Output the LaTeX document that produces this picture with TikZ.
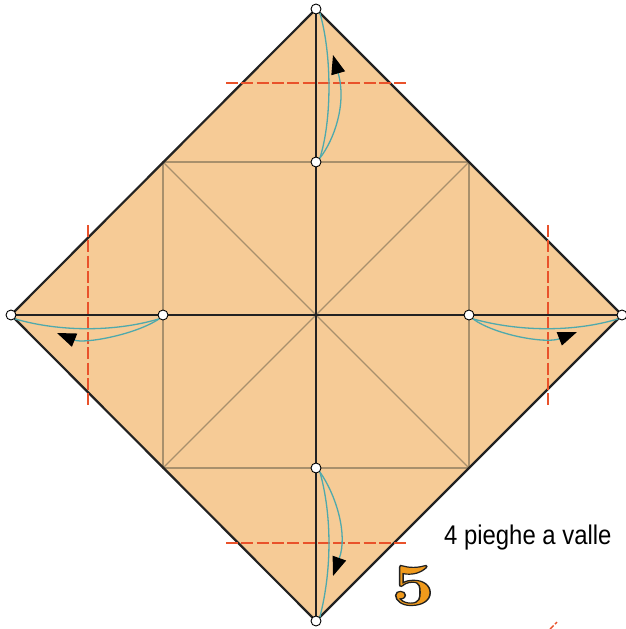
\documentclass[tikz,border=0pt]{standalone}
\usepackage{fontspec}
\setmainfont{Latin Modern Roman}
\newfontfamily\labelfont{Liberation Sans}
\usetikzlibrary{arrows.meta}
\definecolor{paper}{HTML}{F6CB96}
\definecolor{creaseb}{HTML}{A8906C}
\definecolor{tealc}{HTML}{4FA9AC}
\definecolor{redc}{HTML}{E9522B}
\definecolor{edgec}{HTML}{222222}
\definecolor{fivec}{HTML}{F09A1C}
\tikzset{
  pt/.style={circle,draw=black,fill=white,line width=.9pt,inner sep=0pt,minimum size=10pt},
  edgeline/.style={draw=edgec,line width=2.2pt,line cap=round},
  crease/.style={draw=creaseb,line width=1.4pt},
  diag/.style={draw=creaseb,line width=1.1pt},
  valley/.style={draw=redc,line width=2.1pt,dash pattern=on 12pt off 3.3pt},
  guide/.style={draw=tealc,line width=1.3pt},
  fold/.style={draw=tealc,line width=1.3pt,-{Triangle[length=19pt,width=14pt,color=black]}},
}
\begin{document}
\begin{tikzpicture}[x=1pt,y=-1pt]
\useasboundingbox (0,0) rectangle (626,629);
\coordinate (T) at (316,9);
\coordinate (L) at (11,315);
\coordinate (R) at (622,315);
\coordinate (B) at (316,621);
\coordinate (C) at (316,315);
\coordinate (s1) at (163,162);
\coordinate (s2) at (469,162);
\coordinate (s3) at (469,468);
\coordinate (s4) at (163,468);
\coordinate (vt1) at (226,83);
\coordinate (vt2) at (406,83);
\coordinate (vb1) at (226,543);
\coordinate (vb2) at (406,543);
\coordinate (vl1) at (88,225);
\coordinate (vl2) at (88,405);
\coordinate (vr1) at (548,225);
\coordinate (vr2) at (548,405);
\coordinate (m1) at (550,629);
\coordinate (m2) at (557,622);
\fill[paper] (T) -- (R) -- (B) -- (L) -- cycle;
\draw[crease] (s1) rectangle (s3);
\draw[diag] (s1) -- (s3);
\draw[diag] (s2) -- (s4);
\draw[edgeline] (T) -- (R) -- (B) -- (L) -- cycle;
\draw[edgeline] (T) -- (B);
\draw[edgeline] (L) -- (R);
\draw[valley] (vt1) -- (vt2);
\draw[valley] (vb1) -- (vb2);
\draw[valley] (vl1) -- (vl2);
\draw[valley] (vr1) -- (vr2);
\draw[draw=redc,line width=1.4pt,dash pattern=on 5pt off 2pt] (m1) -- (m2);
\node[pt] (nT) at (T) {};
\node[pt] (nL) at (L) {};
\node[pt] (nR) at (R) {};
\node[pt] (nB) at (B) {};
\node[pt] (it) at (316,162) {};
\node[pt] (il) at (163,315) {};
\node[pt] (ir) at (469,315) {};
\node[pt] (ib) at (316,468) {};
\coordinate (at) at (333,55);
\coordinate (al) at (57,333);
\coordinate (ar) at (577,332);
\coordinate (ab) at (333,576);
% guide curves between the points
\draw[guide] (it.north east) .. controls (332,120) and (332,55) .. (nT.south east);
\draw[guide] (il.south west) .. controls (115,332) and (60,332) .. (nL.south east);
\draw[guide] (ir.south east) .. controls (520,332) and (575,332) .. (nR.south west);
\draw[guide] (ib.south east) .. controls (332,515) and (332,570) .. (nB.north east);
% fold arrows
\draw[fold] (it.north east) .. controls (334,140) and (347,104) .. (at);
\draw[fold] (il.south west) .. controls (135,335) and (84,344) .. (al);
\draw[fold] (ir.south east) .. controls (495,335) and (546,344) .. (ar);
\draw[fold] (ib.south east) .. controls (336,495) and (348,534) .. (ab);
\node[anchor=west,inner sep=0pt,text=black,xscale=.885,transform shape] (cap) at (444,537.5) {\labelfont\fontsize{27}{27}\selectfont 4 pieghe a valle};
\node[anchor=center,inner sep=0pt,text=fivec,xscale=1.28,transform shape] (num) at (413,585.5) {\bfseries\fontsize{60}{60}\selectfont\special{pdf:code q 2 Tr 0.13 0.13 0.13 RG 1.2 w}5\special{pdf:code Q}};
\end{tikzpicture}
\end{document}
